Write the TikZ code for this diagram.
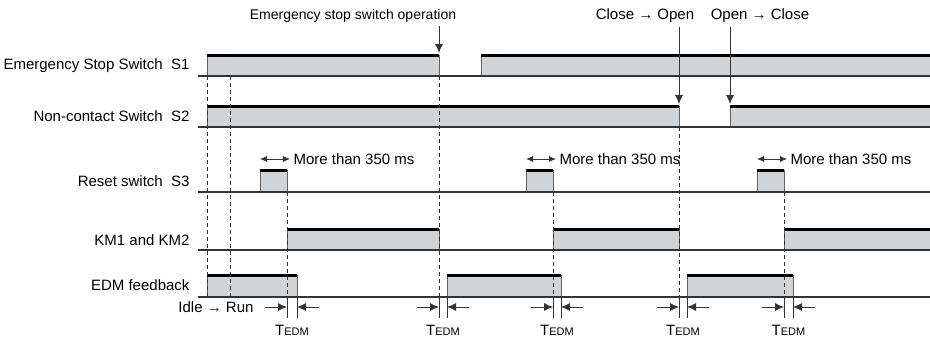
\documentclass[tikz,border=0pt]{standalone}
\usepackage{fontspec}
\setmainfont{Liberation Sans}
\usetikzlibrary{arrows.meta, positioning}
\definecolor{sigfill}{rgb}{0.82,0.83,0.84}
\definecolor{edgegray}{rgb}{0.38,0.38,0.38}
\definecolor{linegray}{rgb}{0.2,0.2,0.2}

% one high level of a signal: x from, x to, top, bottom
\newcommand{\sigpulse}[4]{%
	\fill[sigfill] (#1,#3) rectangle (#2,#4);
	\draw[edgegray,line width=0.9pt] (#1,#4) -- (#1,#3) -- (#2,#3) -- (#2,#4);
	\draw[black,line width=3.4pt] (#1,#3+0.6) -- (#2,#3+0.6);}

\begin{document}
\begin{tikzpicture}[x=1pt,y=-1pt,font=\fontsize{15pt}{17pt}\selectfont]
	\tikzset{sigbase/.style={linegray,line width=1.2pt},
		guide/.style={linegray,line width=0.8pt,dash pattern=on 4pt off 3pt},
		tick/.style={linegray,line width=0.8pt},
		callout/.style={linegray,line width=0.8pt,-{Latex[length=9pt,width=8pt]}},
		span/.style={linegray,line width=0.8pt,{Latex[length=7pt,width=6pt]}-{Latex[length=7pt,width=6pt]}},
		siglabel/.style={anchor=east}}
	\useasboundingbox (0,0) rectangle (930,338);
	
	%----------------------------------------------------------------
	\node(s1) [siglabel] at (193,66) {Emergency Stop Switch\ \ S1};
	\node(s2) [siglabel] at (193,116) {Non-contact Switch\ \ S2};
	\node(s3) [siglabel] at (193,181) {Reset switch\ \ S3};
	\node(km) [siglabel] at (193,240) {KM1 and KM2};
	\node(edm) [siglabel] at (193,285) {EDM feedback};
	\node(idle) at (216,307) {Idle → Run};
	
	%----------------------------------------------------------------
	\sigpulse{207}{439}{55}{76}
	\sigpulse{481}{930}{55}{76}
	
	\sigpulse{207}{679}{106}{127}
	\sigpulse{730}{930}{106}{127}
	
	\sigpulse{260}{287}{170}{192}
	\sigpulse{526}{553}{170}{192}
	\sigpulse{757}{784}{170}{192}
	
	\sigpulse{287}{439}{229}{250}
	\sigpulse{553}{679}{229}{250}
	\sigpulse{784}{930}{229}{250}
	
	\sigpulse{207}{297}{275}{297}
	\sigpulse{447}{561}{275}{297}
	\sigpulse{687}{793}{275}{297}
	
	\foreach \y in {76,127,192,250,297}
	\draw[sigbase] (198,\y) -- (930,\y);
	
	%----------------------------------------------------------------
	\draw[guide] (207,76) -- (207,297);
	\draw[guide] (230,76) -- (230,297);
	\draw[guide] (439,76) -- (439,297);
	\draw[guide] (679,127) -- (679,297);
	\draw[guide] (287,192) -- (287,297);
	\draw[guide] (553,192) -- (553,297);
	\draw[guide] (784,192) -- (784,297);
	
	%----------------------------------------------------------------
	\node(stopop) [font=\fontsize{14pt}{16pt}\selectfont] at (353,16) {Emergency stop switch operation};
	\node(opened) at (645,16) {Close → Open};
	\node(closed) at (760,16) {Open → Close};
	\coordinate (stophit) at (439,53);
	\coordinate (openhit) at (679,104);
	\coordinate (closehit) at (730,104);
	\draw[callout] (stophit |- stopop.south) -- (stophit);
	\draw[callout] (openhit |- opened.south) -- (openhit);
	\draw[callout] (closehit |- closed.south) -- (closehit);
	
	%----------------------------------------------------------------
	\node(more1) [anchor=west] at (290,159) {More than 350 ms};
	\node(more2) [anchor=west] at (556,159) {More than 350 ms};
	\node(more3) [anchor=west] at (787,159) {More than 350 ms};
	\draw[span] (260,159) -- (more1.west);
	\draw[span] (526,159) -- (more2.west);
	\draw[span] (757,159) -- (more3.west);
	
	%----------------------------------------------------------------
	\foreach \a/\b/\n in {287/297/t1,439/447/t2,553/561/t3,679/687/t4,784/793/t5}{
		\draw[tick] (\a,297) -- (\a,318);
		\draw[tick] (\b,297) -- (\b,318);
		\draw[callout] (\a-22,307) -- (\a,307);
		\draw[callout] (\b+22,307) -- (\b,307);
		\node(\n) at ({(\a+\b)/2},330) {T{\fontsize{11pt}{13pt}\selectfont EDM}};
	}
\end{tikzpicture}
\end{document}
